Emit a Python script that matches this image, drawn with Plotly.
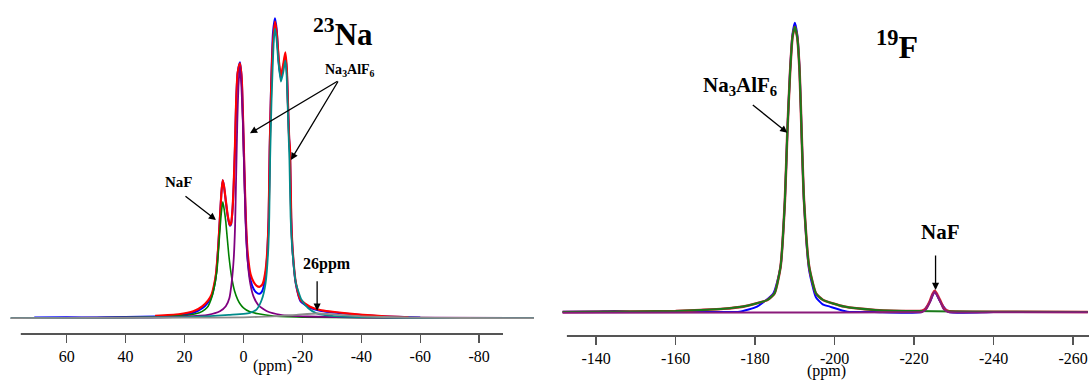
import plotly.graph_objects as go

W, H = 1091, 380

# ---------------- 23Na spectrum (left) ----------------
na_blue_ppm = [71, 60, 50, 40, 30, 22, 17, 14, 12, 10.8, 10, 9.3, 8.6, 8.0, 7.5, 7.06, 6.6, 6.0, 5.4, 4.8, 4.6, 4.2, 3.7, 3.3, 2.9, 2.5, 2.0, 1.2, 0.6, 0.2, -0.3, -0.8, -1.4, -2.4, -3.5, -4.5, -5.4, -6.2, -6.7, -7.5, -8.1, -8.55, -8.9, -9.4, -10.0, -10.7, -11.3, -12.0, -12.7, -13.4, -14.2, -14.7, -15.1, -15.5, -15.8, -16.2, -16.7, -17.8, -19.4, -22.6, -26, -35, -46.8, -60]
na_blue_int = [0.8, 1.0, 0.8, 1.2, 1.8, 3, 5.5, 10, 16, 22, 31, 44, 70, 100, 125, 138, 132, 117, 103, 94, 92.5, 94, 109, 134, 170, 215, 245, 256, 240, 203, 146, 95, 60, 38, 29, 25.5, 24.5, 26.5, 30, 44, 66, 101, 170, 235, 285, 300, 288, 255, 240, 250, 262, 248, 214, 180, 165, 100, 66, 34, 17, 10.5, 7.5, 4.5, 2, 0.8]

na_red_ppm = [30, 22, 17, 14, 12, 10.8, 10, 9.3, 8.6, 8.0, 7.5, 7.06, 6.6, 6.0, 5.4, 4.8, 4.6, 4.2, 3.7, 3.3, 2.9, 2.5, 2.0, 1.2, 0.6, 0.2, -0.3, -0.8, -1.4, -2.4, -3.5, -4.5, -5.4, -6.2, -6.7, -7.5, -8.1, -8.55, -8.9, -9.4, -10.0, -10.7, -11.3, -12.0, -12.7, -13.4, -14.2, -14.7, -15.1, -15.5, -15.8, -16.2, -16.7, -17.8, -19.4, -22.6, -26, -35, -46.8, -56]
na_red_int = [2.5, 4, 7, 12, 18, 24, 33, 45, 70, 100, 125, 138.3, 132, 118, 104, 95, 93.3, 95, 110, 135, 170, 215, 245, 255, 240, 205, 150, 100, 66, 44, 36, 32.5, 31.5, 33, 36, 48, 68, 101, 168, 230, 275, 296.6, 285, 258, 242, 252, 266, 250, 215, 180, 168, 101, 68, 35, 18.3, 11.6, 8.3, 5, 2.3, 1.2]

na_green_ppm = [79, 50, 35, 25, 18, 15, 13, 12, 11, 10, 9, 8.75, 8, 7.5, 7.0, 6.5, 6, 5, 4, 3, 2, 1, 0, -2, -5, -10, -20, -40, -70, -98.6]
na_green_int = [0.2, 0.5, 1, 1.8, 3.5, 5.5, 9, 12, 18.7, 29.6, 48, 57, 88, 106, 116.6, 108, 96.6, 63.8, 40.8, 27, 19, 13.8, 10.5, 6.7, 4.5, 2.3, 1.2, 0.5, 0.2, 0.1]

na_purple_ppm = [79, 35, 20, 12, 8, 6.0, 4.8, 4.0, 3.3, 2.85, 2.5, 2.1, 1.7, 1.2, 0.7, 0.2, -0.3, -0.8, -1.4, -2.3, -3.4, -5.1, -8, -12.6, -22, -40, -98.6]
na_purple_int = [0.2, 0.8, 1.8, 3.5, 7, 12, 20, 36, 60, 92, 140, 195, 232, 251.6, 232, 195, 140, 90, 58, 35, 22, 13, 7, 3.5, 1.8, 0.8, 0.2]

na_teal_ppm = [79, 40, 20, 10, 5, 0, -2.2, -4.5, -6.2, -7.5, -8.4, -8.75, -9.05, -9.5, -9.9, -10.3, -10.7, -11.2, -11.8, -12.7, -13.5, -14.2, -14.6, -14.95, -15.3, -15.6, -16.0, -16.6, -17.8, -19.7, -22, -24.8, -30, -40, -60, -98.6]
na_teal_int = [0.2, 0.6, 1.2, 2.5, 3.5, 4.5, 5.5, 9, 18.5, 35, 68, 101, 160, 215, 250, 278, 290, 280, 258, 236.6, 246, 258, 246, 218, 185, 158, 101, 68, 35, 18.5, 10, 5, 2.5, 1.2, 0.5, 0.2]

na_gray_ppm = [79, 20, 0, -10, -18, -25, -32, -40, -55, -75, -98.6]
na_gray_int = [0.2, 0.6, 1, 2, 3.5, 4.8, 3.5, 2, 0.8, 0.3, 0.1]

na_tick_vals = [60, 40, 20, 0, -20, -40, -60, -80]
na_tick_text = ["60", "40", "20", "0", "-20", "-40", "-60", "-80"]

# ---------------- 19F spectrum (right) ----------------
f_blue_ppm = [-131.5, -140, -144.6, -150, -160, -170, -176.1, -180.5, -184.6, -186.4, -187.5, -188.1, -188.8, -189.4, -190, -190.6, -191.2, -191.7, -192.3, -193.6, -195.3, -197, -198.8, -203.2, -210, -222, -224, -225.2, -226.6, -228.6, -240, -263.7]
f_blue_int = [0.5, 0.7, 1.3, 0.5, 0.3, 0.3, 0.6, 5.7, 19, 45.6, 112, 179, 242, 278, 289.6, 278, 242, 179, 110, 42, 15, 8, 5.7, 0.6, 0.2, 0.5, 10.5, 20.6, 10.5, 0.5, 0.2, 0.2]

f_green_ppm = [-131.5, -150, -160, -166.4, -172, -177, -180, -183.1, -184.9, -186.4, -187.5, -188.1, -188.8, -189.4, -190, -190.6, -191.2, -191.7, -192.3, -193.6, -195.3, -197.1, -202.4, -210.2, -220, -240, -263.7]
f_green_int = [0.3, 0.8, 1.2, 2.3, 3.5, 5.7, 8.5, 12.3, 19, 45.6, 112, 179, 240, 275, 285.6, 275, 240, 179, 112, 45.6, 19, 12.3, 5.7, 2.3, 1.2, 0.6, 0.3]

f_red_ppm = [-131.5, -150, -160, -166.4, -172, -177, -180, -183.1, -184.9, -186.4, -187.5, -188.1, -188.8, -189.4, -190, -190.6, -191.2, -191.7, -192.3, -193.6, -195.3, -197.1, -202.4, -210.2, -220, -222, -223, -224, -224.6, -225.2, -225.8, -226.6, -227.5, -228.6, -240, -263.7]
f_red_int = [0.3, 0.8, 1.2, 2.3, 3.5, 5.7, 8.5, 12.3, 19, 45.6, 112, 179, 240, 275, 285.6, 275, 240, 179, 112, 45.6, 19, 12.3, 5.7, 2.3, 1.2, 1.5, 4, 11.5, 18, 21.6, 18, 11.5, 4, 1.2, 0.6, 0.3]

f_purple_ppm = [-131.5, -180, -220, -222, -223, -224, -224.6, -225.2, -225.8, -226.6, -227.5, -228.6, -240, -263.7]
f_purple_int = [-0.5, -0.3, 0, 0.3, 3, 10.5, 17, 20.6, 17, 10.5, 3, 0.3, 0, 0]

f_tick_vals = [-140, -160, -180, -200, -220, -240, -260]
f_tick_text = ["-140", "-160", "-180", "-200", "-220", "-240", "-260"]

SERIF = "Liberation Serif"

fig = go.Figure()


def add(xs, ys, color, width, xa, ya):
    fig.add_trace(go.Scatter(
        x=xs, y=ys, mode="lines",
        line=dict(color=color, width=width, shape="spline", smoothing=0.5),
        xaxis=xa, yaxis=ya, hoverinfo="skip", showlegend=False))


# left traces
add(na_blue_ppm, na_blue_int, "#0000ff", 2, "x", "y")
add(na_red_ppm, na_red_int, "#ff0000", 2.2, "x", "y")
add(na_green_ppm, na_green_int, "#008000", 1.6, "x", "y")
add(na_purple_ppm, na_purple_int, "#800080", 1.8, "x", "y")
add(na_teal_ppm, na_teal_int, "#008b8b", 1.8, "x", "y")
add(na_gray_ppm, na_gray_int, "#8c8c8c", 1.8, "x", "y")

# right traces
add(f_blue_ppm, f_blue_int, "#0000ff", 2, "x2", "y2")
add(f_red_ppm, f_red_int, "#d02030", 2.6, "x2", "y2")
add(f_green_ppm, f_green_int, "#1a7a1a", 2, "x2", "y2")
add(f_purple_ppm, f_purple_int, "#8a1a7a", 2, "x2", "y2")


def px(x):
    return x / W


def py(y):
    return 1 - y / H


def xaxis_style(domain, rng, anchor, vals, text):
    return dict(
        domain=domain, range=rng, anchor=anchor,
        tickmode="array", tickvals=vals, ticktext=text,
        showgrid=False, zeroline=False, showline=False,
        ticks="outside", ticklen=8, tickwidth=1.5, tickcolor="#555555",
        tickfont=dict(family=SERIF, size=16, color="black"),
        fixedrange=True,
    )


fig.update_layout(
    width=W, height=H,
    margin=dict(l=0, r=0, t=0, b=0),
    paper_bgcolor="white", plot_bgcolor="white",
    font=dict(family=SERIF, size=15, color="black"),
    xaxis=xaxis_style([px(10.4), px(534)], [79.1, -98.6], "y", na_tick_vals, na_tick_text),
    yaxis=dict(domain=[py(334), 1], range=[-15.7, 318.3], visible=False, anchor="x"),
    xaxis2=xaxis_style([px(562.4), px(1088)], [-131.52, -263.75], "y2", f_tick_vals, f_tick_text),
    yaxis2=dict(domain=[py(336), 1], range=[-23.7, 312.3], visible=False, anchor="x2"),
    shapes=[
        dict(type="line", xref="paper", yref="paper", x0=px(20.8), x1=px(503),
             y0=py(334), y1=py(334), line=dict(color="#555555", width=2)),
        dict(type="line", xref="paper", yref="paper", x0=px(566.9), x1=px(1089),
             y0=py(336), y1=py(336), line=dict(color="#555555", width=2)),
    ],
)

ann = []


def label(text, x, y, size, bold=True):
    ann.append(dict(text=("<b>%s</b>" % text) if bold else text,
                    xref="paper", yref="paper", x=px(x), y=py(y),
                    xanchor="center", yanchor="middle", showarrow=False,
                    font=dict(family=SERIF, size=size, color="black")))


def arrow(xref, yref, hx, hy, ax, ay):
    ann.append(dict(text="", xref=xref, yref=yref, x=hx, y=hy, ax=ax, ay=ay,
                    showarrow=True, arrowhead=2, arrowsize=1.1, arrowwidth=1.3,
                    arrowcolor="black"))


# left labels
label("<sup>23</sup>Na", 343, 32, 31)
label("Na<sub>3</sub>AlF<sub>6</sub>", 350, 70, 14)
label("NaF", 179, 181.5, 15)
label("26ppm", 327, 264, 16)
label("(ppm)", 272, 366, 16, bold=False)
arrow("x", "y", -2.2, 185, 89, -53)
arrow("x", "y", -16.1, 158.3, 48, -80)
arrow("x", "y", 9.33, 98.3, -32, -25)
arrow("x", "y", -25.0, 7.6, 0, -31)

# right labels
label("<sup>19</sup>F", 896.5, 45, 32)
label("Na<sub>3</sub>AlF<sub>6</sub>", 740.5, 86, 21)
label("NaF", 940.4, 231.7, 21)
label("(ppm)", 826.5, 370.5, 16, bold=False)
arrow("x2", "y2", -188.1, 179.6, -36, -29)
arrow("x2", "y2", -225.4, 22.3, 0, -36)

fig.update_layout(annotations=ann)

fig.write_html(
    "out.html",
    config={"displayModeBar": False, "staticPlot": True},
    post_script="document.body.style.margin='0';document.body.style.overflow='hidden';",
)
